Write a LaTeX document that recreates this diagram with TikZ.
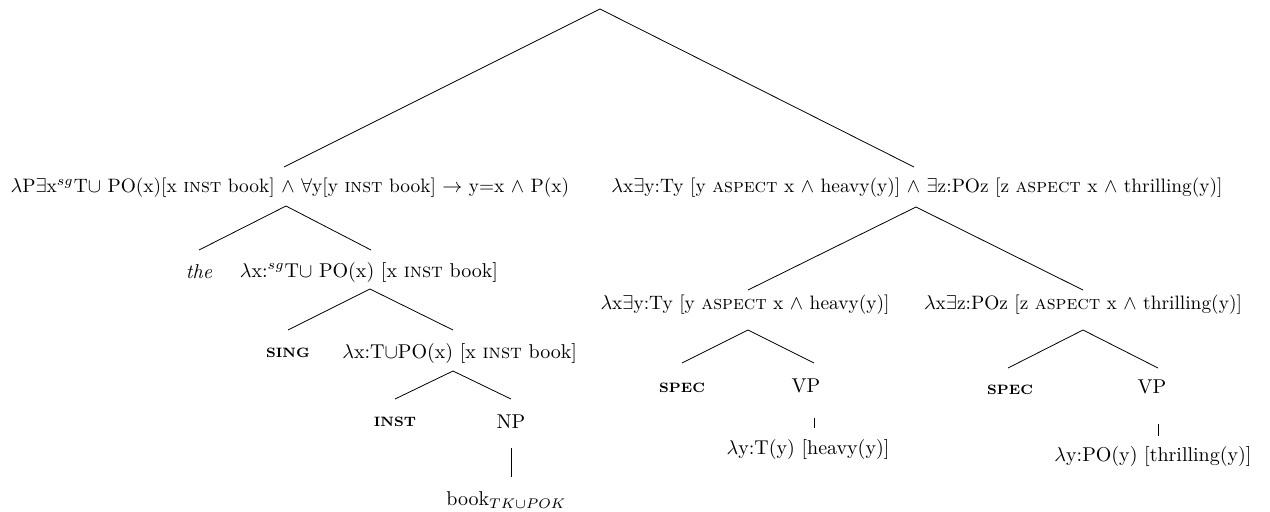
\documentclass[tikz,border=0pt]{standalone}
\begin{document}
\begin{tikzpicture}[x=0.5pt,y=-0.5pt,
  lbl/.style={inner sep=0pt,font=\fontsize{10}{12}\selectfont},
  wide/.style={inner sep=0pt,font=\fontsize{9.7}{12}\selectfont},
  feat/.style={inner sep=0pt,font=\fontsize{6.8}{8}\selectfont\bfseries},
  branch/.style={line width=0.4pt}]
\useasboundingbox (0,0) rectangle (1270,511);

% root (no label) and its two daughters
\coordinate (root) at (600,9);
\node[wide] (L) at (290,188) {$\lambda$P$\exists$x$^{sg}$T$\cup$ PO(x)[x \textsc{inst} book] $\wedge$ $\forall$y[y \textsc{inst} book] $\rightarrow$ y=x $\wedge$ P(x)};
\node[wide] (R) at (917,188) {$\lambda$x$\exists$y:Ty [y \textsc{aspect} x $\wedge$ heavy(y)] $\wedge$ $\exists$z:POz [z \textsc{aspect} x $\wedge$ thrilling(y)]};

% left subtree
\node[lbl] (the) at (199,272) {\textit{the}};
\node[lbl] (LR) at (369,272) {$\lambda$x:$^{sg}$T$\cup$ PO(x) [x \textsc{inst} book]};
\node[feat] (sing) at (288,353) {SING};
\node[lbl,anchor=west] (LRR) at (342,353) {$\lambda$x:T$\cup$PO(x) [x \textsc{inst} book]};
\node[feat] (inst) at (395,422) {INST};
\node[lbl] (NP) at (511,422) {NP};
\node[lbl,anchor=base west] (book) at (446,505) {book$_{TK\cup POK}$};

% right subtree
\node[wide] (RL) at (745,305) {$\lambda$x$\exists$y:Ty [y \textsc{aspect} x $\wedge$ heavy(y)]};
\node[wide] (RR) at (1083,305) {$\lambda$x$\exists$z:POz [z \textsc{aspect} x $\wedge$ thrilling(y)]};
\node[feat] (spec1) at (682,388) {SPEC};
\node[lbl] (VP1) at (806,386) {VP};
\node[lbl] (heavy) at (808,449) {$\lambda$y:T(y) [heavy(y)]};
\node[feat] (spec2) at (1010,390) {SPEC};
\node[lbl] (VP2) at (1152,387) {VP};
\node[lbl] (thrill) at (1153,456) {$\lambda$y:PO(y) [thrilling(y)]};

% branch end points
\coordinate (Ltop) at (284,167);   \coordinate (Rtop) at (914,167);
\coordinate (Lapex) at (286,206);
\coordinate (thetop) at (199,250); \coordinate (LRtop) at (371,250);
\coordinate (LRapex) at (370,289);
\coordinate (singtop) at (288,330); \coordinate (LRRtop) at (453,330);
\coordinate (LRRapex) at (453,371);
\coordinate (insttop) at (395,399); \coordinate (NPtop) at (511,399);
\coordinate (NPbot) at (511,448);  \coordinate (booktop) at (511,477);
\coordinate (Rapex) at (916,207);
\coordinate (RLtop) at (748,290);  \coordinate (RRtop) at (1083,290);
\coordinate (RLapex) at (748,330);
\coordinate (spec1top) at (682,363); \coordinate (VP1top) at (814,363);
\coordinate (VP1bot) at (814,418);  \coordinate (heavytop) at (814,428);
\coordinate (RRapex) at (1083,330);
\coordinate (spec2top) at (1008,368); \coordinate (VP2top) at (1158,368);
\coordinate (VP2bot) at (1158,424);  \coordinate (thrilltop) at (1158,436);

% branches
\draw[branch] (Ltop) -- (root) -- (Rtop);
\draw[branch] (thetop) -- (Lapex) -- (LRtop);
\draw[branch] (singtop) -- (LRapex) -- (LRRtop);
\draw[branch] (insttop) -- (LRRapex) -- (NPtop);
\draw[branch] (NPbot) -- (booktop);
\draw[branch] (RLtop) -- (Rapex) -- (RRtop);
\draw[branch] (spec1top) -- (RLapex) -- (VP1top);
\draw[branch] (VP1bot) -- (heavytop);
\draw[branch] (spec2top) -- (RRapex) -- (VP2top);
\draw[branch] (VP2bot) -- (thrilltop);
\end{tikzpicture}
\end{document}
